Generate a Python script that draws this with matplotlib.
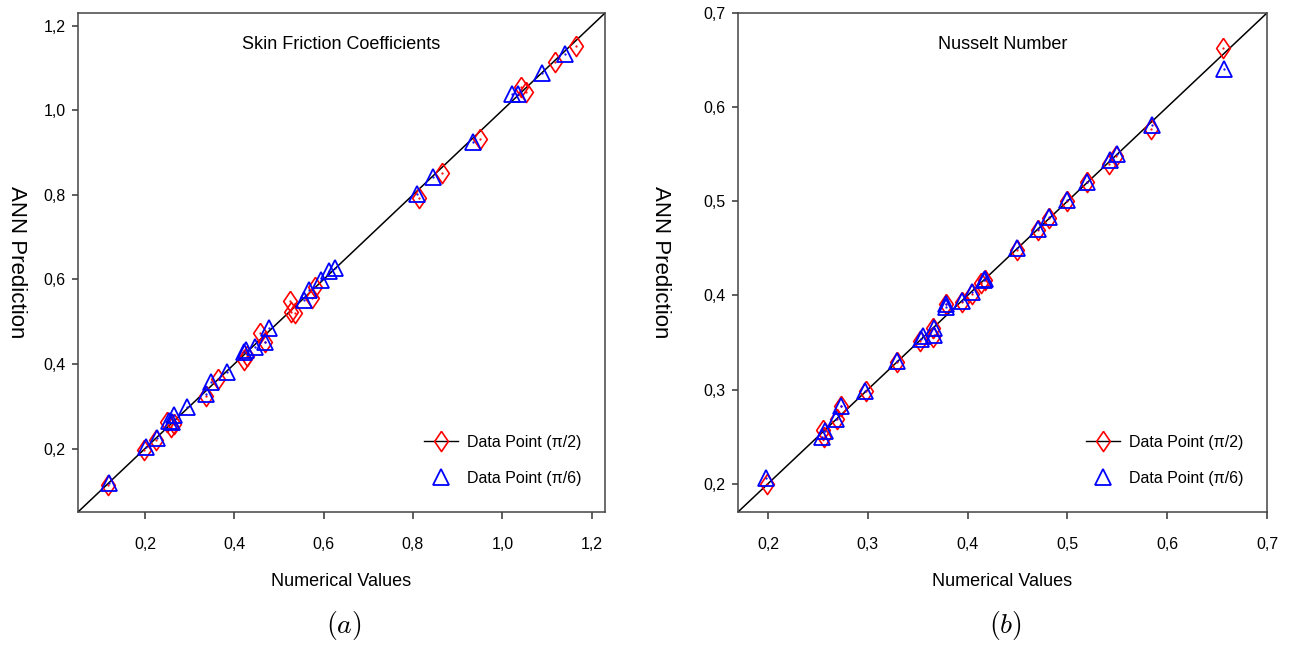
import matplotlib as mpl
mpl.use("Agg")
import matplotlib.pyplot as plt
from matplotlib.lines import Line2D
from matplotlib.ticker import FuncFormatter
import numpy as np

plt.rcParams['font.family'] = ['Liberation Sans', 'DejaVu Sans']
plt.rcParams['mathtext.fontset'] = 'cm'

# (a) skin friction coefficients: numerical value vs ANN prediction
sf_num_90 = [0.117, 0.197, 0.225, 0.250, 0.258, 0.266, 0.337, 0.364, 0.422, 0.428, 0.457, 0.468,
             0.524, 0.528, 0.536, 0.575, 0.580, 0.814, 0.864, 0.949, 1.042, 1.053, 1.119, 1.164]
sf_ann_90 = [0.113, 0.196, 0.221, 0.263, 0.252, 0.257, 0.324, 0.364, 0.410, 0.418, 0.473, 0.453,
             0.548, 0.524, 0.520, 0.556, 0.583, 0.793, 0.852, 0.931, 1.054, 1.043, 1.113, 1.153]
sf_num_30 = [0.120, 0.202, 0.228, 0.254, 0.260, 0.266, 0.293, 0.337, 0.347, 0.384, 0.422, 0.426, 0.447,
             0.468, 0.478, 0.555, 0.568, 0.594, 0.613, 0.625, 0.809, 0.845, 0.935, 1.022, 1.036, 1.088, 1.140]
sf_ann_30 = [0.119, 0.204, 0.226, 0.266, 0.262, 0.279, 0.299, 0.330, 0.358, 0.382, 0.429, 0.433, 0.441,
             0.453, 0.485, 0.552, 0.575, 0.599, 0.619, 0.627, 0.802, 0.843, 0.925, 1.038, 1.038, 1.089, 1.133]

# (b) Nusselt number
nu_num_90 = [0.199, 0.255, 0.256, 0.269, 0.273, 0.298, 0.329, 0.352, 0.365, 0.365, 0.378, 0.394,
             0.404, 0.414, 0.418, 0.450, 0.471, 0.482, 0.500, 0.520, 0.542, 0.549, 0.584, 0.656]
nu_ann_90 = [0.200, 0.257, 0.250, 0.269, 0.283, 0.298, 0.329, 0.352, 0.356, 0.365, 0.391, 0.393,
             0.402, 0.413, 0.416, 0.448, 0.470, 0.482, 0.500, 0.520, 0.540, 0.548, 0.577, 0.663]
nu_num_30 = [0.198, 0.254, 0.257, 0.268, 0.273, 0.297, 0.329, 0.353, 0.355, 0.366, 0.366, 0.378, 0.378,
             0.394, 0.404, 0.417, 0.418, 0.450, 0.471, 0.482, 0.500, 0.520, 0.543, 0.550, 0.585, 0.657]
nu_ann_30 = [0.206, 0.250, 0.256, 0.269, 0.283, 0.299, 0.330, 0.354, 0.357, 0.358, 0.365, 0.391, 0.388,
             0.394, 0.404, 0.416, 0.418, 0.450, 0.471, 0.483, 0.501, 0.521, 0.544, 0.550, 0.581, 0.640]

panels = [
    dict(title="Skin Friction Coefficients", caption=r"$(a)$", lim=(0.05, 1.23),
         ticks=np.arange(0.2, 1.21, 0.2), data=(sf_num_90, sf_ann_90, sf_num_30, sf_ann_30),
         rect=[0.0605, 0.2074, 0.4089, 0.7725], ylab_x=-0.116),
    dict(title="Nusselt Number", caption=r"$(b)$", lim=(0.17, 0.70),
         ticks=np.arange(0.2, 0.71, 0.1), data=(nu_num_90, nu_ann_90, nu_num_30, nu_ann_30),
         rect=[0.5725, 0.2074, 0.4104, 0.7725], ylab_x=-0.147),
]

# tall diamond like the original marker
diamond = [(0, 1), (0.68, 0), (0, -1), (-0.68, 0), (0, 1)]

fig = plt.figure(figsize=(12.89, 6.46), dpi=100)
comma = FuncFormatter(lambda v, pos: f"{v:.1f}".replace('.', ','))

for p in panels:
    ax = fig.add_axes(p['rect'])
    lo, hi = p['lim']
    x90, y90, x30, y30 = p['data']
    ax.plot([lo, hi], [lo, hi], color='black', lw=1.1, zorder=1)
    ax.plot(x90, y90, ls='none', marker=diamond, ms=14.5, mfc='none', mec='red', mew=1.2, zorder=2)
    ax.plot(x90, y90, ls='none', marker='.', ms=1.2, color='red', zorder=2)
    ax.plot(x30, y30, ls='none', marker='^', ms=12, mfc='none', mec='blue', mew=1.3, zorder=3)
    ax.plot(x30, y30, ls='none', marker='.', ms=1.2, color='blue', zorder=3)
    ax.set_xlim(lo, hi)
    ax.set_ylim(lo, hi)
    ax.set_xticks(p['ticks'])
    ax.set_yticks(p['ticks'])
    ax.xaxis.set_major_formatter(comma)
    ax.yaxis.set_major_formatter(comma)
    ax.tick_params(axis='x', direction='out', length=5, width=1.1, pad=13, labelsize=11.5, colors='#333333', labelcolor='black')
    ax.tick_params(axis='y', direction='out', length=4, width=1.1, pad=5, labelsize=11.5, colors='#333333', labelcolor='black')
    for s in ax.spines.values():
        s.set_color('#444444')
        s.set_linewidth(1.1)
    ax.text(0.5, 0.936, p['title'], transform=ax.transAxes, ha='center', va='center', fontsize=13)
    ax.set_xlabel("Numerical Values", fontsize=13, labelpad=15)
    ax.set_ylabel("ANN Prediction", fontsize=16, rotation=-90, va='center', ha='center')
    ax.yaxis.set_label_coords(p['ylab_x'], 0.5)
    ax.text(0.505, -0.227, p['caption'], transform=ax.transAxes, ha='center', va='center', fontsize=20)

    handles = [Line2D([], [], color='black', lw=1.0, marker=diamond, ms=14.5, mfc='none', mec='red', mew=1.2),
               Line2D([], [], ls='none', marker='^', ms=12, mfc='none', mec='blue', mew=1.3)]
    ax.legend(handles, ["Data Point (\u03c0/2)", "Data Point (\u03c0/6)"], loc='lower right',
              bbox_to_anchor=(0.968, 0.04), frameon=False, fontsize=11.5, handlelength=2.1,
              handletextpad=0.6, labelspacing=1.3, borderaxespad=0)

fig.savefig("out.png", dpi=100)
